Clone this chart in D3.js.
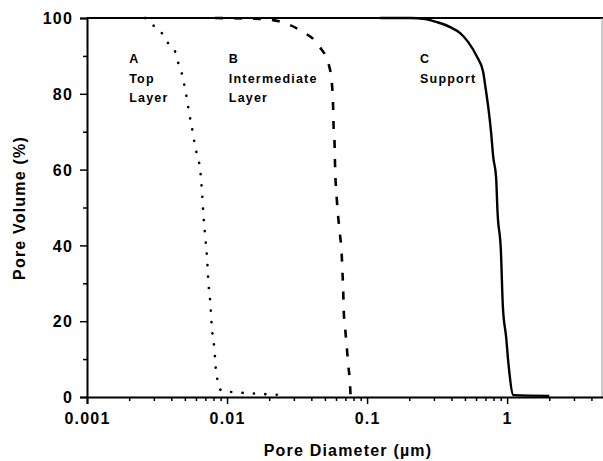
<!doctype html>
<html>
<head>
<meta charset="utf-8"/>
<title>Pore Volume vs Pore Diameter</title>
<script src="https://d3js.org/d3.v7.min.js"></script>
<style>
body { margin: 0; background: #fff; }
text { font-family: "Liberation Sans", Arial, sans-serif; font-weight: bold; fill: #000; }
</style>
</head>
<body>
<svg id="svg1"></svg>
<script>
// curve A - top layer (dotted)
const diamA = [0.0026, 0.00282, 0.00338, 0.00379, 0.00433, 0.00454, 0.00485, 0.00501, 0.00518, 0.00535,
    0.00553, 0.00572, 0.00591, 0.00617, 0.00641, 0.00662, 0.00677, 0.00697, 0.0072, 0.00735,
    0.0076, 0.00778, 0.00812, 0.00834, 0.00858, 0.00917, 0.011, 0.016, 0.026];
const volA = [100, 98.7, 96.3, 93.4, 90.5, 87.3, 84.2, 81.3, 78.4, 75.2,
    72.3, 69.4, 66.2, 63.3, 60.4, 54.4, 48.5, 42.7, 36.7, 30.6,
    24.8, 18.7, 12.7, 6.9, 4.2, 1.6, 1.3, 0.9, 0.5];

// curve B - intermediate layer (dashed)
const diamB = [0.0082, 0.0184, 0.0247, 0.0338, 0.0454, 0.0536, 0.0562, 0.0572, 0.0576, 0.0586,
    0.059, 0.0608, 0.0621, 0.0641, 0.0659, 0.0667, 0.0676, 0.0681, 0.0697, 0.0716,
    0.0735, 0.0756, 0.0762];
const volB = [100, 99.7, 98.9, 96.6, 92.6, 87.3, 82.3, 76.8, 71.8, 66.8,
    61.7, 52.2, 47.8, 42.7, 37.7, 33, 27.7, 23, 18.2, 13.2,
    8.2, 3.2, 0.3];

// curve C - support (solid)
const diamC = [0.124, 0.203, 0.26, 0.316, 0.392, 0.462, 0.526, 0.611, 0.674, 0.705,
    0.738, 0.769, 0.796, 0.834, 0.855, 0.902, 0.933, 0.984, 1.021, 1.11, 2.0];
const volC = [100, 100, 99.7, 98.9, 97.6, 96, 93.7, 89.7, 85.8, 81,
    75.7, 69.7, 63.3, 58, 48.5, 38.8, 23.7, 15.8, 9, 0.5, 0.3];

const xTicks = [0.001, 0.01, 0.1, 1];
const xTickLabels = ['0.001', '0.01', '0.1', '1'];
const yTicks = [0, 20, 40, 60, 80, 100];
const yMinor = [10, 30, 50, 70, 90];

const labels = [
    {lines: ['A', 'Top', 'Layer'], d: 0.002},
    {lines: ['B', 'Intermediate', 'Layer'], d: 0.0103},
    {lines: ['C', 'Support'], d: 0.239}
];

const W = 603, H = 461;
const svg = d3.select('#svg1').attr('width', W).attr('height', H);

const x = d3.scaleLog().domain([0.001, 5]).range([87, 605]);
const y = d3.scaleLinear().domain([0, 100]).range([397, 18]);

// minor x ticks
let xMinor = [];
[0.001, 0.01, 0.1, 1].forEach(function(dec) {
    for (let k = 2; k <= 9; k++) {
        if (dec * k < 5) xMinor.push(dec * k);
    }
});

// frame: top and right
svg.append('line').attr('x1', 87).attr('x2', W).attr('y1', 18).attr('y2', 18)
    .style('stroke', '#000').style('stroke-width', 2);
svg.append('line').attr('x1', 602).attr('x2', 602).attr('y1', 18).attr('y2', 397)
    .style('stroke', '#999').style('stroke-width', 1);

// x axis
const xAxis = svg.append('g').attr('transform', 'translate(0,397)')
    .call(d3.axisBottom(x).tickValues(xTicks).tickFormat((d, i) => xTickLabels[i])
        .tickSizeOuter(0).tickSize(7).tickPadding(6));
svg.append('g').attr('transform', 'translate(0,397)')
    .call(d3.axisBottom(x).tickValues(xMinor).tickFormat('').tickSizeOuter(0).tickSize(4))
    .select('.domain').remove();

// y axis
const yAxis = svg.append('g').attr('transform', 'translate(87,0)')
    .call(d3.axisLeft(y).tickValues(yTicks).tickSizeOuter(0).tickSize(7).tickPadding(7));
svg.append('g').attr('transform', 'translate(87,0)')
    .call(d3.axisLeft(y).tickValues(yMinor).tickFormat('').tickSizeOuter(0).tickSize(4))
    .select('.domain').remove();

svg.selectAll('.domain').style('stroke', '#000').style('stroke-width', 2);
svg.selectAll('.tick line').style('stroke', '#000').style('stroke-width', 1.5);
svg.selectAll('.tick text').style('font-size', '16px').style('letter-spacing', '1.2px')
    .style('font-family', '"Liberation Sans", Arial, sans-serif').style('font-weight', 'bold');
xAxis.selectAll('.tick text').attr('dy', '0.9em');
yAxis.selectAll('.tick text').attr('dy', '0.36em');

// curves
const line = d3.line()
    .x(d => x(d[0]))
    .y(d => y(d[1]))
    .curve(d3.curveMonotoneX);

const series = [
    {d: diamA, v: volA, dash: '0.1,11.3', width: 2.6, cap: 'round'},
    {d: diamB, v: volB, dash: '8,11', width: 2.6, cap: 'butt'},
    {d: diamC, v: volC, dash: null, width: 2.4, cap: 'butt'}
];

series.forEach(function(s) {
    svg.append('path')
        .datum(d3.zip(s.d, s.v))
        .attr('d', line)
        .style('fill', 'none')
        .style('stroke', '#000')
        .style('stroke-width', s.width)
        .style('stroke-linecap', s.cap)
        .style('stroke-dasharray', s.dash);
});

// curve labels
labels.forEach(function(l) {
    const t = svg.append('text')
        .attr('x', x(l.d))
        .attr('y', 63)
        .style('font-size', '12.5px')
        .style('letter-spacing', '1.2px');
    l.lines.forEach(function(s, i) {
        t.append('tspan').attr('x', x(l.d)).attr('y', 63 + i * 19.5).text(s);
    });
});

// axis titles
svg.append('text')
    .attr('x', 348)
    .attr('y', 456)
    .attr('text-anchor', 'middle')
    .style('font-size', '16px')
    .style('letter-spacing', '1.2px')
    .text('Pore Diameter (µm)');

svg.append('text')
    .attr('transform', 'translate(25,208) rotate(-90)')
    .attr('text-anchor', 'middle')
    .style('font-size', '16px')
    .style('letter-spacing', '1.2px')
    .text('Pore Volume (%)');
</script>
</body>
</html>
